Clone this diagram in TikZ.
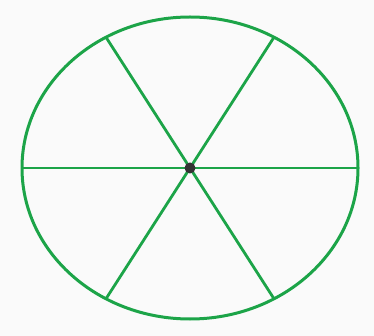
\documentclass[tikz,border=0pt]{standalone}
\usetikzlibrary{calc}
\begin{document}
\begin{tikzpicture}[x=1pt,y=-1pt,
  rim/.style={draw=ringgreen,line width=3pt},
  spoke/.style={draw=ringgreen,line width=2.8pt}]
\definecolor{ringgreen}{RGB}{28,164,72}
\definecolor{bgc}{RGB}{250,250,250}
\fill[bgc] (0,0) rectangle (374,336);
\useasboundingbox (0,0) rectangle (374,336);
\coordinate (c) at (190,168);
\foreach \a in {0,60,...,300}{
  \coordinate (p\a) at ($(c)+({168*cos(\a)},{-151*sin(\a)})$);
}
\draw[spoke] (p0) -- (p180);
\draw[spoke] (p60) -- (p240);
\draw[spoke] (p120) -- (p300);
\draw[rim] (c) ellipse [x radius=168, y radius=151];
\node[circle,fill=black!80,inner sep=0pt,minimum size=11pt] (dot) at (c) {};
\end{tikzpicture}
\end{document}
